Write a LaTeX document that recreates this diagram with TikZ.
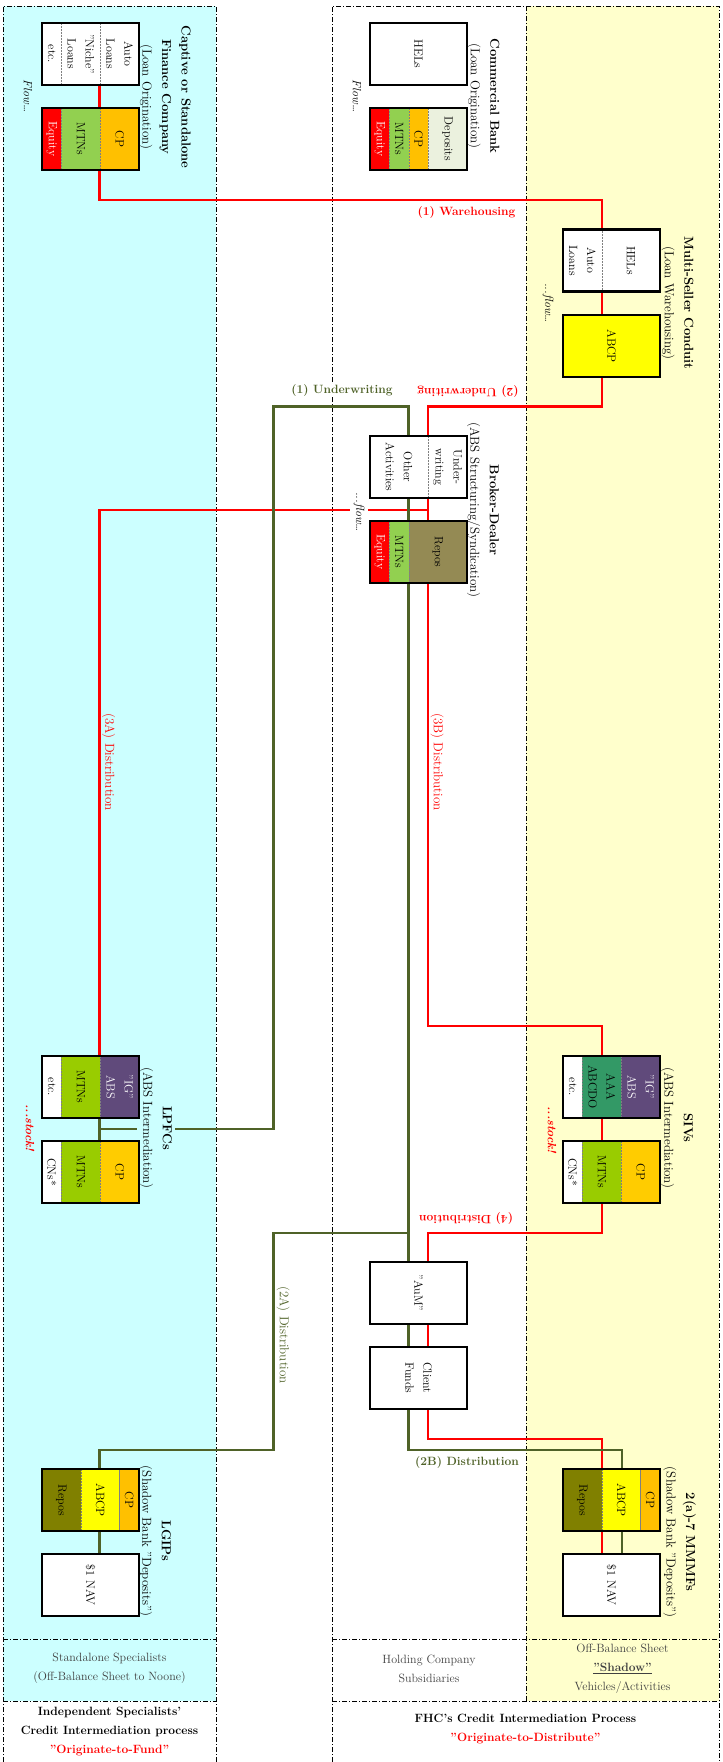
\documentclass[tikz,border=0pt]{standalone}
\usepackage{xcolor}
\usepackage{tikz}
\definecolor{cyanbg}{HTML}{CCFFFF}
\definecolor{yellowbg}{HTML}{FFFFCC}
\definecolor{olivefl}{HTML}{4F6228}
\definecolor{eqred}{HTML}{FF0000}
\definecolor{mtngreen}{HTML}{92D050}
\definecolor{mtnlime}{HTML}{99CC00}
\definecolor{cporange}{HTML}{FFC000}
\definecolor{cpgold}{HTML}{FFCC00}
\definecolor{depgreen}{HTML}{EBF1DE}
\definecolor{repotan}{HTML}{948A54}
\definecolor{repoolive}{HTML}{808000}
\definecolor{abcpyellow}{HTML}{FFFF00}
\definecolor{igpurple}{HTML}{604A7B}
\definecolor{aaagreen}{HTML}{339966}
\definecolor{footgray}{HTML}{404040}
\pgfdeclarelayer{panels}
\pgfdeclarelayer{flows}
\pgfsetlayers{panels,flows,main}

\begin{document}
\begin{tikzpicture}[x=1pt, y=-1pt,
    every node/.style={font=\fontsize{12}{19}\selectfont},
    panel/.style={line width=0.8pt, dash pattern=on 5pt off 2pt on 1pt off 2pt},
    cell/.style={rotate=-90, draw=gray, densely dotted, line width=0.5pt,
                 minimum width=62pt, minimum height=#1, inner sep=0pt,
                 align=center, font=\fontsize{12}{18}\selectfont},
    boxframe/.style={draw, line width=2.2pt, minimum width=97pt, minimum height=62pt, inner sep=0pt},
    orgtitle/.style={rotate=-90, align=center, inner sep=2pt, font=\fontsize{13}{19.5}\selectfont},
    flowtxt/.style={rotate=-90, font=\fontsize{12}{19}\selectfont\itshape, inner sep=2pt},
    stocktxt/.style={rotate=-90, font=\fontsize{12}{19}\selectfont\bfseries\itshape, text=red},
    redln/.style={draw=red, line width=2.8pt},
    oliveln/.style={draw=olivefl, line width=2.8pt},
    lbl/.style={font=\fontsize{12}{19}\selectfont\bfseries, text=#1, fill=white, inner sep=1pt},
    vlbl/.style={rotate=-90, anchor=south, text=#1, inner sep=1pt, font=\fontsize{13}{19}\selectfont},
    footcell/.style={align=center, text=footgray},
    footbold/.style={align=center, font=\fontsize{12}{19}\selectfont\bfseries},
]
    \useasboundingbox (0,0) rectangle (723,1762);

    % === panels ===
    \begin{pgfonlayer}{panels}
        \fill[cyanbg] (3,6) rectangle (216,1701);
        \fill[yellowbg] (526,6) rectangle (719,1701);
        \draw[panel] (3,1762) -- (3,6) -- (216,6) -- (216,1762);
        \draw[panel] (3,1639) -- (216,1639) (3,1701) -- (216,1701);
        \draw[panel] (332,1762) -- (332,6) -- (719,6) -- (719,1762);
        \draw[panel] (526,6) -- (526,1701);
        \draw[panel] (332,1639) -- (719,1639) (332,1701) -- (719,1701);
    \end{pgfonlayer}

    % === titles ===
    \node[orgtitle] (cfTitle) at (165,97) {\textbf{Captive or Standalone}\\\textbf{Finance Company}\\(Loan Origination)};
    \node[orgtitle] (cbTitle) at (483.5,96) {\textbf{Commercial Bank}\\(Loan Origination)};
    \node[orgtitle] (cdTitle) at (677.5,303) {\textbf{Multi-Seller Conduit}\\(Loan Warehousing)};
    \node[orgtitle] (bdTitle) at (483,510) {\textbf{Broker-Dealer}\\(ABS Structuring/Syndication)};
    \node[orgtitle, fill=cyanbg, inner sep=3.5pt] (lpTitle) at (156,1128) {\textbf{LPFCs}\\(ABS Intermediation)};
    \node[orgtitle] (sivTitle) at (677,1128) {\textbf{SIVs}\\(ABS Intermediation)};
    \node[orgtitle] (lgTitle) at (155,1541) {\textbf{LGIPs}\\(Shadow Bank "Deposits")};
    \node[orgtitle] (mmTitle) at (679.5,1542) {\textbf{2(a)-7 MMMFs}\\(Shadow Bank "Deposits")};

    % === captive / standalone finance company ===
    \node[cell=19.4pt, fill=white] (cfL1) at (51.7,54) {etc.};
    \node[cell=38.8pt, fill=white] (cfL2) at (80.8,54) {"Niche"\\Loans};
    \node[cell=38.8pt, fill=white] (cfL3) at (119.6,54) {Auto\\Loans};
    \node[boxframe] (cfLoan) at (90.5,54) {};
    \node[cell=19.4pt, fill=eqred, text=white] (cfF1) at (51.7,139) {Equity};
    \node[cell=38.8pt, fill=mtngreen] (cfF2) at (80.8,139) {MTNs};
    \node[cell=38.8pt, fill=cporange] (cfF3) at (119.6,139) {CP};
    \node[boxframe] (cfFund) at (90.5,139) {};

    % === commercial bank ===
    \node[cell=97pt, fill=white] (cbL1) at (418.5,54) {HELs};
    \node[boxframe] (cbLoan) at (418.5,54) {};
    \node[cell=19.4pt, fill=eqred, text=white] (cbF1) at (379.7,139) {Equity};
    \node[cell=19.4pt, fill=mtngreen] (cbF2) at (399.1,139) {MTNs};
    \node[cell=19.4pt, fill=cporange] (cbF3) at (418.5,139) {CP};
    \node[cell=38.8pt, fill=depgreen] (cbF4) at (447.6,139) {Deposits};
    \node[boxframe] (cbFund) at (418.5,139) {};

    % === multi-seller conduit ===
    \node[cell=38.8pt, fill=white] (cdL1) at (582.4,260.5) {Auto\\Loans};
    \node[cell=58.2pt, fill=white] (cdL2) at (630.9,260.5) {HELs};
    \node[boxframe] (cdLoan) at (611.5,260.5) {};
    \node[cell=97pt, fill=abcpyellow] (cdF1) at (611.5,346) {ABCP};
    \node[boxframe] (cdFund) at (611.5,346) {};

    % === broker-dealer ===
    \node[cell=58.2pt, fill=white] (bdA1) at (399.1,467) {Other\\Activities};
    \node[cell=38.8pt, fill=white] (bdA2) at (447.6,467) {Under-\\writing};
    \node[boxframe] (bdAct) at (418.5,467) {};
    \node[cell=19.4pt, fill=eqred, text=white] (bdF1) at (379.7,552) {Equity};
    \node[cell=19.4pt, fill=mtngreen] (bdF2) at (399.1,552) {MTNs};
    \node[cell=58.2pt, fill=repotan] (bdF3) at (437.9,552) {Repos};
    \node[boxframe] (bdFund) at (418.5,552) {};

    % === LPFCs ===
    \node[cell=19.4pt, fill=white] (lpA1) at (51.7,1087) {etc.};
    \node[cell=38.8pt, fill=mtnlime] (lpA2) at (80.8,1087) {MTNs};
    \node[cell=38.8pt, fill=igpurple, text=white] (lpA3) at (119.6,1087) {"IG"\\ABS};
    \node[boxframe] (lpAsset) at (90.5,1087) {};
    \node[cell=19.4pt, fill=white] (lpF1) at (51.7,1172) {CNs*};
    \node[cell=38.8pt, fill=mtnlime] (lpF2) at (80.8,1172) {MTNs};
    \node[cell=38.8pt, fill=cpgold] (lpF3) at (119.6,1172) {CP};
    \node[boxframe] (lpFund) at (90.5,1172) {};

    % === SIVs ===
    \node[cell=19.4pt, fill=white] (sivA1) at (572.7,1087) {etc.};
    \node[cell=38.8pt, fill=aaagreen] (sivA2) at (601.8,1087) {AAA\\ABCDO};
    \node[cell=38.8pt, fill=igpurple, text=white] (sivA3) at (640.6,1087) {"IG"\\ABS};
    \node[boxframe] (sivAsset) at (611.5,1087) {};
    \node[cell=19.4pt, fill=white] (sivF1) at (572.7,1172) {CNs*};
    \node[cell=38.8pt, fill=mtnlime] (sivF2) at (601.8,1172) {MTNs};
    \node[cell=38.8pt, fill=cpgold] (sivF3) at (640.6,1172) {CP};
    \node[boxframe] (sivFund) at (611.5,1172) {};

    % === asset management ===
    \node[cell=97pt, fill=white] (amA1) at (418.5,1293) {"AuM"};
    \node[boxframe] (amAum) at (418.5,1293) {};
    \node[cell=97pt, fill=white] (amF1) at (418.5,1378) {Client\\Funds};
    \node[boxframe] (amFunds) at (418.5,1378) {};

    % === LGIPs ===
    \node[cell=38.8pt, fill=repoolive] (lgF1) at (61.4,1500) {Repos};
    \node[cell=38.8pt, fill=abcpyellow] (lgF2) at (100.2,1500) {ABCP};
    \node[cell=19.4pt, fill=cporange] (lgF3) at (129.3,1500) {CP};
    \node[boxframe] (lgFund) at (90.5,1500) {};
    \node[cell=97pt, fill=white] (lgN1) at (90.5,1585) {\$1 NAV};
    \node[boxframe] (lgNav) at (90.5,1585) {};

    % === 2(a)-7 MMMFs ===
    \node[cell=38.8pt, fill=repoolive] (mmF1) at (582.4,1500) {Repos};
    \node[cell=38.8pt, fill=abcpyellow] (mmF2) at (621.2,1500) {ABCP};
    \node[cell=19.4pt, fill=cporange] (mmF3) at (650.3,1500) {CP};
    \node[boxframe] (mmFund) at (611.5,1500) {};
    \node[cell=97pt, fill=white] (mmN1) at (611.5,1585) {\$1 NAV};
    \node[boxframe] (mmNav) at (611.5,1585) {};

    % === flow / stock notes ===
    \node[flowtxt] (cfFlow) at (28,96) {Flow\dots};
    \node[flowtxt] (cbFlow) at (357,96) {Flow\dots};
    \node[flowtxt] (cdFlow) at (548,303) {...flow\dots};
    \node[flowtxt, fill=white, inner sep=4pt] (bdFlow) at (359,512) {...flow\dots};
    \node[stocktxt] (lpStock) at (30,1128) {...stock!};
    \node[stocktxt] (sivStock) at (552,1130) {...stock!};

    % lanes and levels of the flows
    \coordinate (lnL) at (99.5,0);
    \coordinate (lnO) at (273.8,0);
    \coordinate (lnMo) at (408.8,0);
    \coordinate (lnMr) at (428,0);
    \coordinate (lnRr) at (602,0);
    \coordinate (lnRo) at (622,0);
    \coordinate (whLvl) at (0,200);
    \coordinate (uwLvl) at (0,406.5);
    \coordinate (daLvl) at (0,510);
    \coordinate (dbLvl) at (0,1026);
    \coordinate (lpLvl) at (0,1129);
    \coordinate (d4Lvl) at (0,1233);
    \coordinate (dcLvl) at (0,1439);
    \coordinate (ddLvl) at (0,1450);

    % === flows ===
    \begin{pgfonlayer}{flows}
        % red: originate-to-distribute chain
        \draw[redln] (cfLoan.center -| lnL) -- (lnL |- whLvl) -| (cdFund.center -| lnRr);
        \draw[redln] (cdFund.center -| lnRr) -- (lnRr |- uwLvl) -| (bdFund.center -| lnMr);
        \draw[redln] (bdAct.center -| lnMr) -- (lnMr |- daLvl) -| (lpAsset.center -| lnL);
        \draw[redln] (bdFund.center -| lnMr) -- (lnMr |- dbLvl) -| (sivFund.center -| lnRr);
        \draw[redln] (sivFund.center -| lnRr) -- (lnRr |- d4Lvl) -| (amFunds.center -| lnMr);
        \draw[redln] (amFunds.center -| lnMr) -- (lnMr |- dcLvl) -| (mmNav.center -| lnRr);
        % olive: underwriting and distribution
        \draw[oliveln] (bdFund.center -| lnMo) |- (lnO |- uwLvl) -- (lnO |- lpLvl) -- (lnL |- lpLvl);
        \draw[oliveln] (lpAsset.center -| lnL) -- (lpFund.center -| lnL);
        \draw[oliveln] (bdAct.center -| lnMo) -- (amAum.center -| lnMo);
        \draw[oliveln] (lnMo |- d4Lvl) -| (lnO |- ddLvl) -| (lgNav.center -| lnL);
        \draw[oliveln] (amAum.center -| lnMo) -- (lnMo |- ddLvl) -| (mmNav.center -| lnRo);
    \end{pgfonlayer}

    % === flow labels ===
    \node[lbl=red] (whLbl) at (466.5,213) {(1) Warehousing};
    \node[lbl=red, rotate=180] (uw2Lbl) at (468,391) {(2) Underwriting};
    \node[lbl=olivefl] (uw1Lbl) at (342,390) {(1) Underwriting};
    \node[lbl=red, rotate=180] (d4Lbl) at (466,1218) {(4) Distribution};
    \node[lbl=olivefl] (d2bLbl) at (467,1462) {(2B) Distribution};
    \node[vlbl=red] (d3aLbl) at (101,762) {(3A) Distribution};
    \node[vlbl=red] (d3bLbl) at (429.5,762) {(3B) Distribution};
    \node[vlbl=olivefl] (d2aLbl) at (275.3,1335) {(2A) Distribution};

    % === footer ===
    \node[footcell] (ftLeftA) at (109.5,1668.5) {Standalone Specialists\\(Off-Balance Sheet to Noone)};
    \node[footcell] (ftMidA) at (429,1668.5) {Holding Company\\Subsidiaries};
    \node[footcell] (ftRightA) at (622.5,1669) {Off-Balance Sheet\\\underline{\textbf{"Shadow"}}\\Vehicles/Activities};
    \node[footbold] (ftLeftB) at (109.5,1731) {Independent Specialists'\\Credit Intermediation process\\\textcolor{red}{"Originate-to-Fund"}};
    \node[footbold] (ftRightB) at (525.5,1729) {FHC's Credit Intermediation Process\\\textcolor{red}{"Originate-to-Distribute"}};
\end{tikzpicture}
\end{document}
